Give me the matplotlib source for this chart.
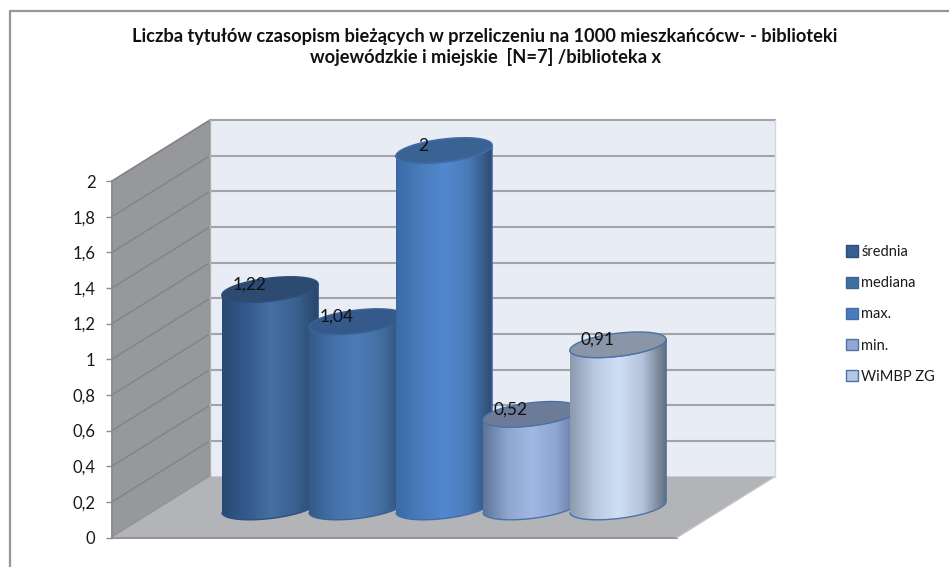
import numpy as np
import matplotlib
matplotlib.use("Agg")
import matplotlib.pyplot as plt
from matplotlib.colors import LinearSegmentedColormap
from matplotlib.patches import Patch, PathPatch, Polygon
from matplotlib.path import Path

categories = ["średnia", "mediana", "max.", "min.", "WiMBP ZG"]
values = [1.22, 1.04, 2, 0.52, 0.91]
value_labels = ["1,22", "1,04", "2", "0,52", "0,91"]
axis_values = [0, 0.2, 0.4, 0.6, 0.8, 1, 1.2, 1.4, 1.6, 1.8, 2]
axis_labels = ["0", "0,2", "0,4", "0,6", "0,8", "1", "1,2", "1,4", "1,6", "1,8", "2"]
title = ("Liczba tytułów czasopism bieżących w przeliczeniu na 1000 mieszkańcócw- - biblioteki\n"
         "wojewódzkie i miejskie  [N=7] /biblioteka x")

# gradient stops left -> middle -> right, then the cap, edge and legend colour
body_stops = [
    ["#284a72", "#34598a", "#45709f", "#3a6292", "#284668"],
    ["#33598a", "#4471a8", "#4c7cb8", "#426f9f", "#2c4a70"],
    ["#3a6aa6", "#4a7cbc", "#5288d0", "#4a7ab8", "#2c4a70"],
    ["#5d7498", "#8da5cf", "#a0b8e2", "#8fa6d2", "#5f7398"],
    ["#8c99ae", "#b8c8e0", "#cfe0f6", "#b4c2da", "#5f6b7c"],
]
cap_colors = ["#2d4a70", "#34598a", "#3a6293", "#6b7b98", "#8b95a8"]
edge_colors = ["#2d4f7c", "#3a6496", "#3f6ea8", "#4a74a8", "#4a74a8"]
legend_colors = ["#375f92", "#41709f", "#4a7cbc", "#92a8d2", "#b4c6e2"]

FIG_W, FIG_H = 949, 567
PX_X = 87.0      # pixels per bar step
PX_Y = 178.25    # pixels per value unit
DEPTH_X = 98 / PX_X
DEPTH_Y = 61 / PX_Y
LEFT, RIGHT = -1.253, 5.241
TOP = axis_values[-1]


def project(x, v, d):
    return x + d * DEPTH_X, v + d * DEPTH_Y


def ring(i, v, t):
    return project(i + 0.5 * np.cos(t), v, 0.5 + 0.21 * np.sin(t))


fig = plt.figure(figsize=(FIG_W / 100, FIG_H / 100), dpi=100)
ax = fig.add_axes([0, 0, 1, 1])
ax.set_xlim(-221 / PX_X, (FIG_W - 221) / PX_X)
ax.set_ylim(-(FIG_H - 537.5) / PX_Y, 537.5 / PX_Y)
plt.rcParams["font.family"] = ["Lato", "DejaVu Sans"]

# outer chart frame, only the top and left show in the crop
fig.add_artist(plt.Line2D([9.5 / FIG_W, 9.5 / FIG_W, 1], [0, 1 - 11 / FIG_H, 1 - 11 / FIG_H],
                          color="#969696", lw=1.6))

# walls and floor
wall = [project(LEFT, 0, 0), project(LEFT, 0, 1), project(LEFT, TOP, 1), project(LEFT, TOP, 0)]
back = [project(LEFT, 0, 1), project(RIGHT, 0, 1), project(RIGHT, TOP, 1), project(LEFT, TOP, 1)]
floor = [project(LEFT, 0, 0), project(RIGHT, 0, 0), project(RIGHT, 0, 1), project(LEFT, 0, 1)]
ax.add_patch(Polygon(wall, fc="#97989b", ec="#8c8c8c", lw=1, zorder=1))
ax.add_patch(Polygon(back, fc="#e8ecf5", ec="none", zorder=1))
ax.add_patch(Polygon(floor, fc="#b2b4b7", ec="none", zorder=1))

for v in axis_values[1:]:
    xs, ys = zip(project(LEFT, v, 0), project(LEFT, v, 1), project(RIGHT, v, 1))
    ax.plot(xs[:2], ys[:2], color="#828385", lw=1, zorder=2)
    ax.plot(xs[1:], ys[1:], color="#a3a4a6", lw=1.5, zorder=2)
xs, ys = zip(project(LEFT, 0, 0), project(RIGHT, 0, 0))
ax.plot(xs, ys, color="#959595", lw=1.5, zorder=2)
xs, ys = zip(project(RIGHT, 0, 0), project(RIGHT, 0, 1))
ax.plot(xs, ys, color="#c4c5c7", lw=1, zorder=2)
xs, ys = zip(project(LEFT, 0, 1), project(LEFT, TOP, 1))
ax.plot(xs, ys, color="#b0b0b0", lw=1, zorder=2)
xs, ys = zip(project(RIGHT, 0, 1), project(RIGHT, TOP, 1))
ax.plot(xs, ys, color="#d4d7dd", lw=1, zorder=2)

# cylinders, later ones overlap the earlier ones
t0 = np.arctan2(0.21 * DEPTH_X, 0.5)
arc = np.linspace(t0 + np.pi, t0 + 2 * np.pi, 80)
circle = np.linspace(0, 2 * np.pi, 160)
for i, v in enumerate(values):
    z = 3 + i
    bx, by = ring(i, 0, arc)
    tx, ty = ring(i, v, arc[::-1])
    outline = np.column_stack([np.r_[bx, tx], np.r_[by, ty]])
    body = PathPatch(Path(outline), fc="none", ec=edge_colors[i], lw=1, zorder=z + 0.2)
    ax.add_patch(body)
    cmap = LinearSegmentedColormap.from_list(categories[i], body_stops[i])
    im = ax.imshow(np.linspace(0, 1, 256).reshape(1, -1), cmap=cmap, aspect="auto",
                   extent=(bx.min(), bx.max(), by.min(), ty.max()), zorder=z)
    im.set_clip_path(PathPatch(Path(outline), transform=ax.transData))
    cx, cy = ring(i, v, circle)
    ax.fill(cx, cy, fc=cap_colors[i], ec=edge_colors[i], lw=1, zorder=z + 0.4)
    lx, ly = project(i, v, 0.5)
    ax.annotate(value_labels[i], (lx, ly), xytext=(-15, 3.5), textcoords="offset points",
                ha="center", va="center", fontsize=12.5, color="#111111", zorder=20)

ax.set_xlim(-221 / PX_X, (FIG_W - 221) / PX_X)
ax.set_ylim(-(FIG_H - 537.5) / PX_Y, 537.5 / PX_Y)

# value axis sits on the front edge of the side wall
for name in ["top", "right", "bottom"]:
    ax.spines[name].set_visible(False)
ax.spines["left"].set_position(("data", LEFT))
ax.spines["left"].set_bounds(0, TOP)
ax.spines["left"].set_color("#8c8c8c")
ax.spines["left"].set_linewidth(1.2)
ax.patch.set_alpha(0)
ax.set_xticks([])
ax.set_yticks(axis_values)
ax.set_yticklabels(axis_labels)
ax.tick_params(axis="y", length=4, width=1, color="#8c8c8c", pad=8, labelsize=12, labelcolor="#1a1a1a")

handles = [Patch(fc=legend_colors[i], ec=edge_colors[i], lw=1) for i in range(len(categories))]
ax.legend(handles, categories, loc="upper left", bbox_to_anchor=(846 / FIG_W, 1 - 245 / FIG_H),
          bbox_transform=fig.transFigure, frameon=False, fontsize=10.5, handlelength=0.8,
          handleheight=0.8, handletextpad=0.25, labelspacing=1.18, borderpad=0, borderaxespad=0,
          labelcolor="#1a1a1a")

fig.text(485 / FIG_W, 1 - 47 / FIG_H, title, ha="center", va="center", fontsize=13.15,
         fontweight="bold", color="#111111", linespacing=1.18)

fig.savefig("out.png", dpi=100)
